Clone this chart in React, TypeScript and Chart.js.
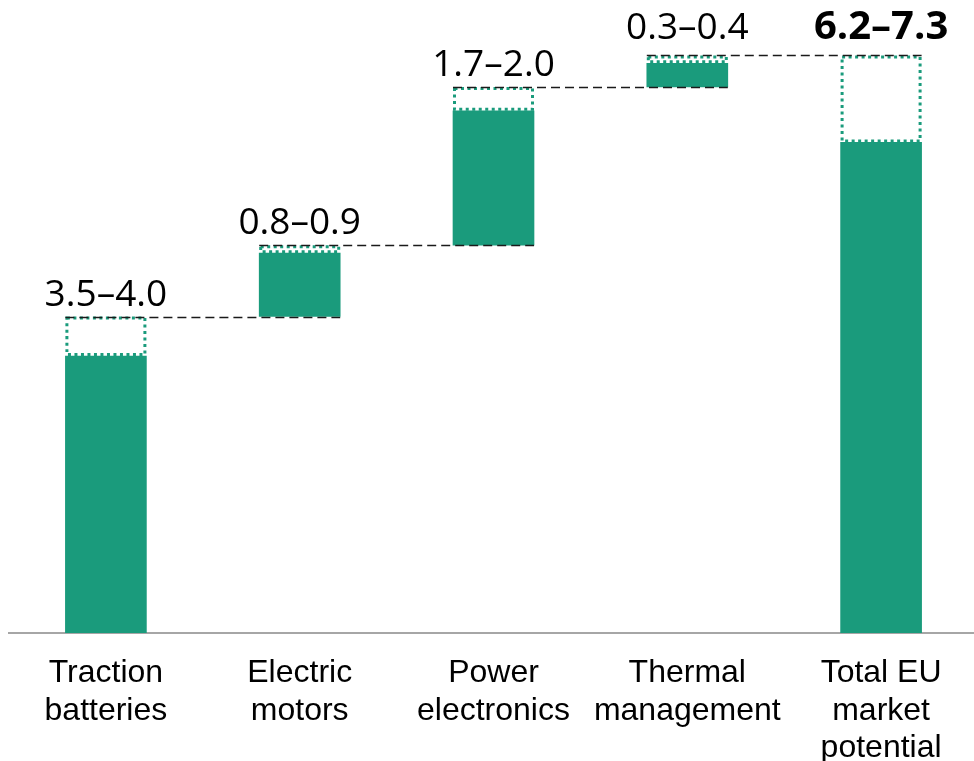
import React, { useEffect, useRef } from "react";
import { Chart, registerables } from "chart.js";

Chart.register(...registerables);

const categories: string[][] = [
  ["Traction", "batteries"],
  ["Electric", "motors"],
  ["Power", "electronics"],
  ["Thermal", "management"],
  ["Total EU", "market", "potential"],
];
const lowValues = [3.5, 0.8, 1.7, 0.3, 6.2];
const highValues = [4.0, 0.9, 2.0, 0.4, 7.3];
const isTotal = [false, false, false, false, true];

const TEAL = "#1a9b7c";

function buildBases(): number[] {
  const bases: number[] = [];
  let run = 0;
  for (let i = 0; i < highValues.length; i++) {
    if (isTotal[i]) {
      bases.push(0);
    } else {
      bases.push(run);
      run += highValues[i];
    }
  }
  return bases;
}

const waterfallPlugin = {
  id: "waterfallExtras",
  afterDatasetsDraw(chart: any) {
    const ctx = chart.ctx;
    const solid = chart.getDatasetMeta(0).data;
    const range = chart.getDatasetMeta(1).data;
    ctx.save();
    // dotted outlines
    ctx.strokeStyle = TEAL;
    ctx.lineWidth = 3;
    ctx.setLineDash([3, 3.5]);
    range.forEach((el: any) => {
      const p = el.getProps(["x", "y", "base", "width"], true);
      const l = p.x - p.width / 2 + 1.5;
      const r = p.x + p.width / 2 - 1.5;
      const t = Math.min(p.y, p.base) + 1.5;
      const b = Math.max(p.y, p.base) - 1.5;
      ctx.beginPath();
      ctx.rect(l, t, r - l, b - t);
      ctx.stroke();
    });
    // connectors
    ctx.setLineDash([9, 5]);
    ctx.strokeStyle = "#1a1a1a";
    ctx.lineWidth = 1.5;
    for (let i = 0; i < range.length - 1; i++) {
      const a = range[i].getProps(["x", "y", "width"], true);
      const n = solid[i + 1].getProps(["x", "width"], true);
      const y = Math.round(a.y) + 0.5;
      ctx.beginPath();
      ctx.moveTo(a.x - a.width / 2, y);
      ctx.lineTo(n.x + n.width / 2, y);
      ctx.stroke();
    }
    // value labels
    ctx.setLineDash([]);
    ctx.fillStyle = "#000000";
    ctx.textAlign = "center";
    ctx.textBaseline = "alphabetic";
    range.forEach((el: any, i: number) => {
      const p = el.getProps(["x", "y"], true);
      const txt = `${lowValues[i].toFixed(1)}–${highValues[i].toFixed(1)}`;
      ctx.font = isTotal[i]
        ? "700 40px 'Open Sans', sans-serif"
        : "400 37px 'Open Sans', sans-serif";
      const gap = i >= 3 ? 16 : 11;
      ctx.fillText(txt, p.x, p.y - gap);
    });
    ctx.restore();
  },
};

export default function App() {
  const ref = useRef<HTMLCanvasElement | null>(null);
  useEffect(() => {
    if (!ref.current) return;
    const bases = buildBases();
    const solidData = lowValues.map((v, i) => [bases[i], bases[i] + v]);
    const rangeData = highValues.map((v, i) => [bases[i] + lowValues[i], bases[i] + v]);
    const chart = new Chart(ref.current, {
      type: "bar",
      data: {
        labels: categories as any,
        datasets: [
          {
            data: solidData as any,
            backgroundColor: TEAL,
            borderWidth: 0,
            barThickness: 81,
            grouped: false,
          } as any,
          {
            data: rangeData as any,
            backgroundColor: "rgba(0,0,0,0)",
            borderWidth: 0,
            barThickness: 81,
            grouped: false,
          } as any,
        ],
      },
      options: {
        animation: false,
        responsive: true,
        maintainAspectRatio: false,
        layout: { padding: { left: 9, right: 0, top: 0, bottom: 0 } },
        plugins: { legend: { display: false }, tooltip: { enabled: false } },
        scales: {
          y: { display: false, min: 0, max: 8 },
          x: {
            grid: { display: false },
            border: { display: true, color: "#a6a6a6", width: 2 },
            ticks: {
              color: "#000000",
              padding: 14,
              maxRotation: 0,
              autoSkip: false,
              font: { family: "'Liberation Sans', Arial, sans-serif", size: 32, lineHeight: 1.16 },
            },
            afterFit: (scale: any) => {
              scale.height = 128;
            },
          },
        },
      },
      plugins: [waterfallPlugin],
    });
    return () => chart.destroy();
  }, []);
  return (
    <div style={{ position: "fixed", left: 0, top: 0, width: 978, height: 761, background: "#fff" }}>
      <canvas ref={ref} />
    </div>
  );
}
